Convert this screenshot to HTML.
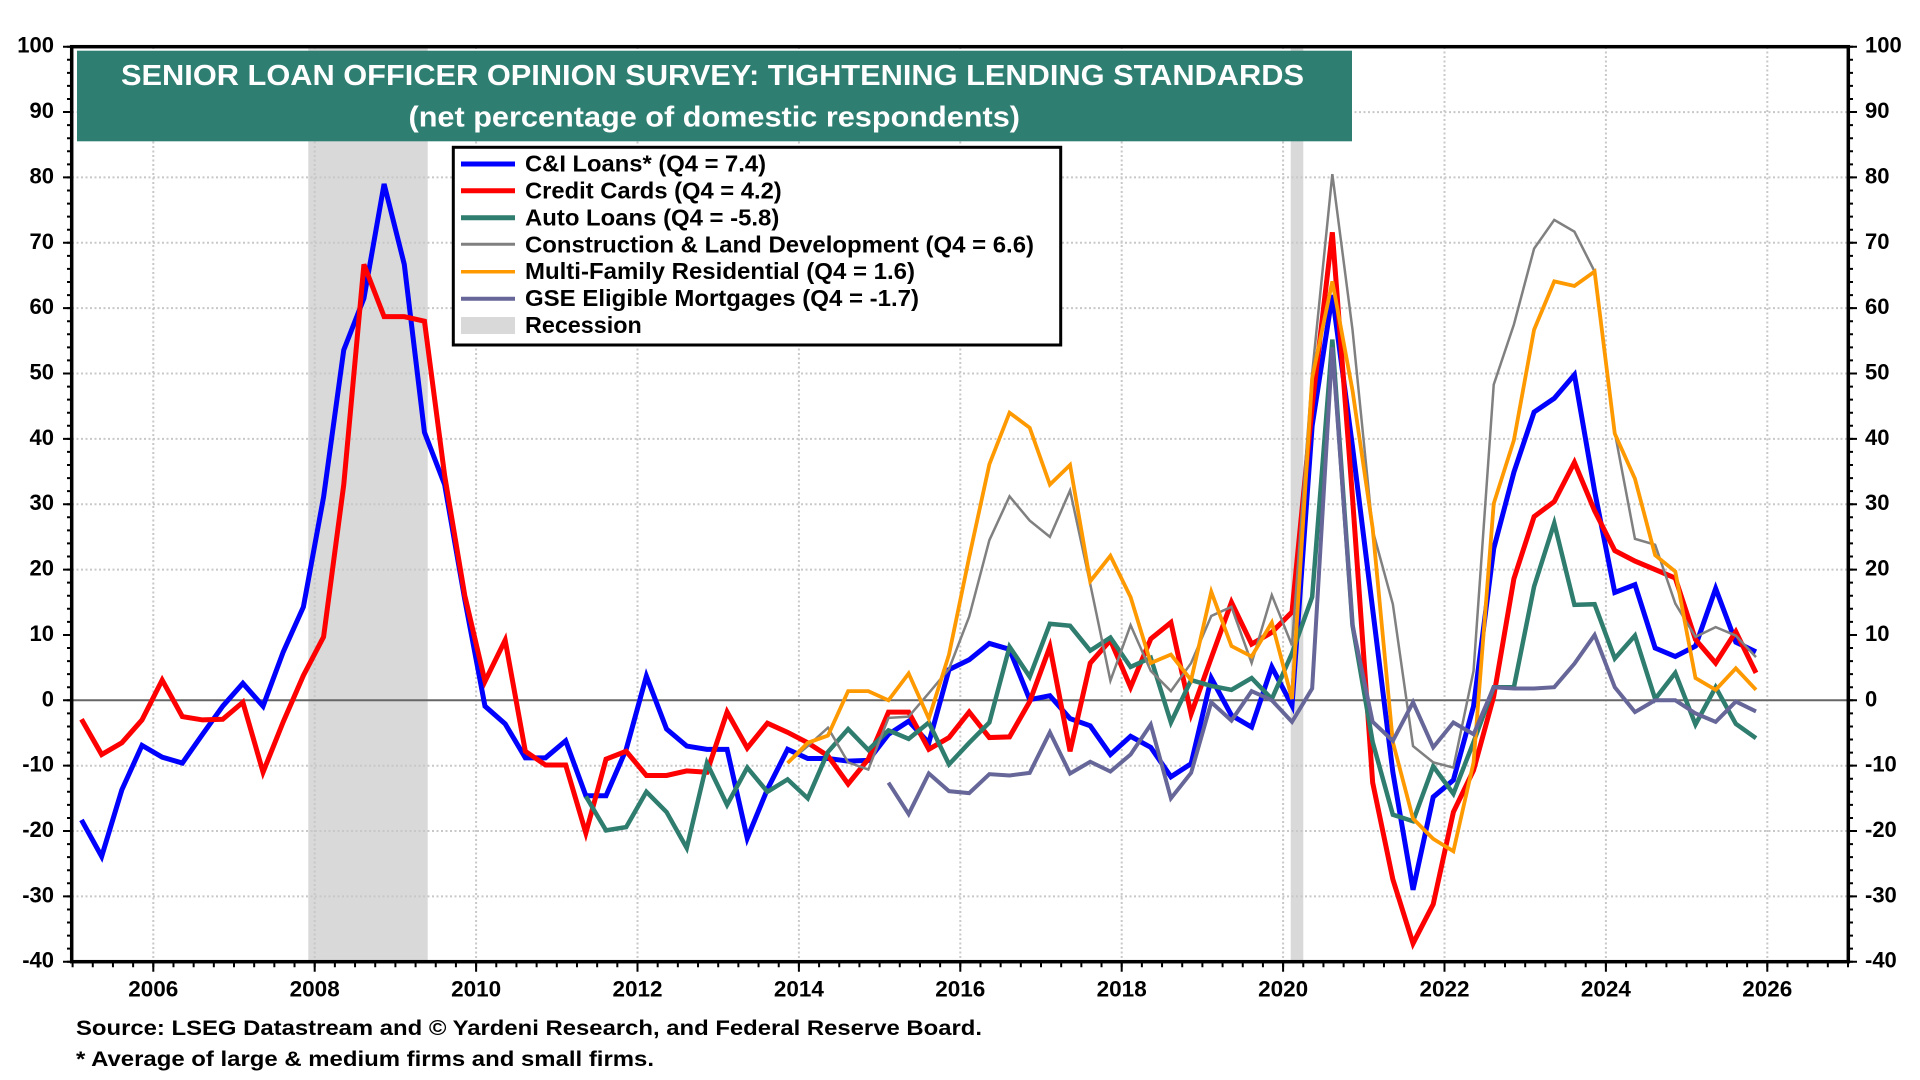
<!DOCTYPE html>
<html>
<head>
<meta charset="utf-8">
<style>
html,body{margin:0;padding:0;background:#fff;}
svg{display:block;}
</style>
</head>
<body>
<svg width="1920" height="1080" viewBox="0 0 1920 1080" xmlns="http://www.w3.org/2000/svg" font-family="'Liberation Sans', Arial, sans-serif" font-weight="bold">
<rect x="0" y="0" width="1920" height="1080" fill="#fff"/>

<!-- recession bands -->
<rect x="308.3" y="46.7" width="119.4" height="915" fill="#d9d9d9"/>
<rect x="1290.7" y="46.7" width="12.6" height="915" fill="#d9d9d9"/>

<!-- gridlines -->
<g stroke="#c8c8c8" stroke-width="2" stroke-dasharray="2 2.5" fill="none">
  <path d="M72,112.1H1848M72,177.4H1848M72,242.8H1848M72,308.1H1848M72,373.5H1848M72,438.9H1848M72,504.2H1848M72,569.6H1848M72,765.7H1848M72,831H1848M72,896.4H1848"/>
  <path d="M153.3,47V961M314.7,47V961M476.1,47V961M637.5,47V961M798.9,47V961M960.3,47V961M1121.7,47V961M1283.1,47V961M1444.5,47V961M1605.9,47V961M1767.3,47V961"/>
</g>
<!-- zero line -->
<line x1="72" y1="700.3" x2="1848" y2="700.3" stroke="#666" stroke-width="2"/>

<!-- series -->
<g transform="matrix(20.175 0 0 -6.536 81.48 700.3)" fill="none" stroke-linejoin="miter">
<polyline vector-effect="non-scaling-stroke" stroke="#0000ff" stroke-width="5" points="0,-18.3 1,-23.9 2,-13.7 3,-6.9 4,-8.7 5,-9.6 6,-5.2 7,-0.9 8,2.6 9,-0.9 10,7.4 11,14.3 12,31.1 13,53.6 14,61.5 15,79 16,66.7 17,41 18,33 19,15.4 20,-0.9 21,-3.6 22,-8.8 23,-8.8 24,-6.2 25,-14.6 26,-14.6 27,-7.5 28,3.7 29,-4.4 30,-7 31,-7.5 32,-7.5 33,-21.1 34,-13.6 35,-7.5 36,-8.9 37,-8.9 38,-9.3 39,-9.2 40,-5.2 41,-3.2 42,-6.5 43,4.7 44,6.2 45,8.7 46,7.8 47,0.1 48,0.7 49,-2.8 50,-3.9 51,-8.3 52,-5.5 53,-7.2 54,-11.7 55,-9.7 56,3.4 57,-2.3 58,-4.1 59,5.1 60,-0.8 61,42 62,62 63,38.8 64,13.9 65,-11 66,-29 67,-14.8 68,-12.2 69,-0.9 70,23.2 71,34.9 72,44.1 73,46.2 74,49.8 75,32 76,16.5 77,17.7 78,8 79,6.7 80,8.3 81,17.1 82,8.9 83,7.4"/>
<polyline vector-effect="non-scaling-stroke" stroke="#ff0000" stroke-width="5" points="0,-2.9 1,-8.3 2,-6.5 3,-3 4,3.1 5,-2.5 6,-3 7,-2.9 8,-0.3 9,-11 10,-3.3 11,3.8 12,9.7 13,33 14,66.7 15,58.7 16,58.7 17,58 18,34.4 19,16 20,2.9 21,9.2 22,-7.8 23,-9.9 24,-9.9 25,-20.3 26,-9 27,-7.8 28,-11.5 29,-11.5 30,-10.8 31,-11 32,-1.8 33,-7.3 34,-3.5 35,-4.9 36,-6.5 37,-8.5 38,-12.8 39,-9 40,-1.8 41,-1.8 42,-7.5 43,-5.7 44,-1.8 45,-5.7 46,-5.6 47,-0.2 48,8.2 49,-7.8 50,5.7 51,9.2 52,2 53,9.4 54,11.9 55,-2.1 56,6.5 57,15 58,8.6 59,10.4 60,13.5 61,45 62,71.6 63,31 64,-12.6 65,-27.4 66,-37.2 67,-31.2 68,-17.1 69,-10.7 70,0.6 71,18.6 72,28.1 73,30.4 74,36.4 75,29 76,22.9 77,21.3 78,20 79,18.7 80,9.3 81,5.7 82,10.5 83,4.2"/>
<polyline vector-effect="non-scaling-stroke" stroke="#2e7d6e" stroke-width="4.5" points="25,-14.7 26,-19.9 27,-19.4 28,-14 29,-17.1 30,-22.6 31,-9.6 32,-16 33,-10.3 34,-14 35,-12.1 36,-15 37,-7.9 38,-4.4 39,-7.6 40,-4.6 41,-5.9 42,-3.4 43,-9.8 44,-6.5 45,-3.4 46,8.2 47,3.6 48,11.7 49,11.4 50,7.6 51,9.6 52,5.1 53,6.5 54,-3.4 55,3.1 56,2.2 57,1.6 58,3.4 59,0.2 60,7.2 61,15.8 62,55.2 63,11.5 64,-6.4 65,-17.5 66,-18.5 67,-10.1 68,-14.3 69,-6.4 70,2 71,2 72,17.4 73,27.1 74,14.6 75,14.7 76,6.4 77,9.9 78,0.2 79,4.2 80,-3.7 81,2 82,-3.6 83,-5.8"/>
<polyline vector-effect="non-scaling-stroke" stroke="#808080" stroke-width="2.5" points="35,-9.6 36,-7 37,-4.2 38,-9.5 39,-10.6 40,-2.7 41,-2.5 42,1.1 43,4.8 44,12.8 45,24.5 46,31.2 47,27.5 48,25 49,32.1 50,17.8 51,3 52,11.5 53,4.5 54,1.4 55,5.7 56,12.9 57,14.3 58,5.7 59,16.1 60,8.4 61,50 62,80.5 63,56.7 64,26 65,14.7 66,-7 67,-9.5 68,-10.3 69,4.5 70,48.3 71,57.5 72,69.1 73,73.5 74,71.7 75,65.6 76,41 77,24.7 78,23.8 79,14.8 80,9.7 81,11.2 82,9.9 83,6.6"/>
<polyline vector-effect="non-scaling-stroke" stroke="#ff9900" stroke-width="3.8" points="35,-9.6 36,-6.5 37,-5.4 38,1.4 39,1.4 40,0 41,4.1 42,-2.8 43,7 44,21.9 45,36.1 46,44 47,41.7 48,33 49,36 50,18.2 51,22.1 52,15.8 53,5.7 54,7 55,3.1 56,16.6 57,8.3 58,6.7 59,11.9 60,0.2 61,49.3 62,64.1 63,47.4 64,26.3 65,-6.4 66,-18.1 67,-21.2 68,-23.1 69,-9.5 70,30.1 71,39.8 72,56.7 73,64.1 74,63.4 75,65.6 76,40.8 77,33.9 78,22.2 79,19.7 80,3.4 81,1.6 82,4.9 83,1.6"/>
<polyline vector-effect="non-scaling-stroke" stroke="#666699" stroke-width="4" points="40,-12.6 41,-17.4 42,-11.2 43,-13.9 44,-14.2 45,-11.3 46,-11.5 47,-11.1 48,-4.9 49,-11.2 50,-9.4 51,-10.9 52,-8.3 53,-3.7 54,-15 55,-11.1 56,-0.3 57,-3.1 58,1.4 59,0 60,-3.3 61,1.8 62,54 63,11.5 64,-3.3 65,-6.2 66,-0.3 67,-7.2 68,-3.4 69,-5.2 70,2 71,1.8 72,1.8 73,2 74,5.6 75,10 76,2 77,-1.8 78,0 79,0 80,-2 81,-3.3 82,-0.2 83,-1.7"/>
</g>

<!-- title box -->
<rect x="77" y="50.7" width="1275" height="90.6" fill="#2f7e72"/>
<text x="121" y="85" font-size="29" fill="#ffffff" textLength="1183" lengthAdjust="spacingAndGlyphs">SENIOR LOAN OFFICER OPINION SURVEY: TIGHTENING LENDING STANDARDS</text>
<text x="408.5" y="126.7" font-size="29" fill="#ffffff" textLength="611.5" lengthAdjust="spacingAndGlyphs">(net percentage of domestic respondents)</text>

<!-- legend -->
<rect x="453.3" y="147.3" width="607.4" height="197.7" fill="#ffffff" stroke="#000" stroke-width="3"/>
<g fill="none">
  <line x1="461" y1="164" x2="515" y2="164" stroke="#0000ff" stroke-width="5"/>
  <line x1="461" y1="190.7" x2="515" y2="190.7" stroke="#ff0000" stroke-width="5"/>
  <line x1="461" y1="217.7" x2="515" y2="217.7" stroke="#2e7d6e" stroke-width="5"/>
  <line x1="461" y1="244.3" x2="515" y2="244.3" stroke="#808080" stroke-width="3"/>
  <line x1="461" y1="271.7" x2="515" y2="271.7" stroke="#ff9900" stroke-width="3.5"/>
  <line x1="461" y1="298.7" x2="515" y2="298.7" stroke="#666699" stroke-width="4"/>
</g>
<rect x="461" y="317" width="54" height="17" fill="#d9d9d9"/>
<g font-size="23.5" fill="#000">
  <text x="525" y="171.7" textLength="241" lengthAdjust="spacingAndGlyphs">C&amp;I Loans* (Q4 = 7.4)</text>
  <text x="525" y="198.5" textLength="256.7" lengthAdjust="spacingAndGlyphs">Credit Cards (Q4 = 4.2)</text>
  <text x="525" y="225.4" textLength="254.3" lengthAdjust="spacingAndGlyphs">Auto Loans (Q4 = -5.8)</text>
  <text x="525" y="252.3" textLength="509" lengthAdjust="spacingAndGlyphs">Construction &amp; Land Development (Q4 = 6.6)</text>
  <text x="525" y="279.2" textLength="390" lengthAdjust="spacingAndGlyphs">Multi-Family Residential (Q4 = 1.6)</text>
  <text x="525" y="306.1" textLength="394" lengthAdjust="spacingAndGlyphs">GSE Eligible Mortgages (Q4 = -1.7)</text>
  <text x="525" y="333.1" textLength="116.7" lengthAdjust="spacingAndGlyphs">Recession</text>
</g>

<!-- frame -->
<rect x="71.7" y="46.7" width="1776.6" height="915" fill="none" stroke="#000" stroke-width="3.5"/>

<!-- ticks -->
<g stroke="#000" fill="none">
  <line x1="69.5" y1="45.7" x2="69.5" y2="963" stroke-width="5" stroke-dasharray="2 11.072"/>
  <line x1="67.5" y1="45.7" x2="67.5" y2="963" stroke-width="9" stroke-dasharray="2 63.36"/>
  <line x1="1850.5" y1="45.7" x2="1850.5" y2="963" stroke-width="5" stroke-dasharray="2 11.072"/>
  <line x1="1852.5" y1="45.7" x2="1852.5" y2="963" stroke-width="9" stroke-dasharray="2 63.36"/>
  <line x1="71.6" y1="964.5" x2="1849" y2="964.5" stroke-width="5.5" stroke-dasharray="2 18.175"/>
  <line x1="152.3" y1="966.7" x2="1849" y2="966.7" stroke-width="10" stroke-dasharray="2 159.4"/>
</g>

<!-- left y labels -->
<g font-size="22" fill="#000" text-anchor="end">
  <text x="54" y="52.7">100</text>
  <text x="54" y="118.1">90</text>
  <text x="54" y="183.4">80</text>
  <text x="54" y="248.8">70</text>
  <text x="54" y="314.1">60</text>
  <text x="54" y="379.5">50</text>
  <text x="54" y="444.9">40</text>
  <text x="54" y="510.2">30</text>
  <text x="54" y="575.6">20</text>
  <text x="54" y="640.9">10</text>
  <text x="54" y="706.3">0</text>
  <text x="54" y="771.7">-10</text>
  <text x="54" y="837">-20</text>
  <text x="54" y="902.4">-30</text>
  <text x="54" y="967.7">-40</text>
</g>
<!-- right y labels -->
<g font-size="22" fill="#000" text-anchor="start">
  <text x="1865" y="52.7">100</text>
  <text x="1865" y="118.1">90</text>
  <text x="1865" y="183.4">80</text>
  <text x="1865" y="248.8">70</text>
  <text x="1865" y="314.1">60</text>
  <text x="1865" y="379.5">50</text>
  <text x="1865" y="444.9">40</text>
  <text x="1865" y="510.2">30</text>
  <text x="1865" y="575.6">20</text>
  <text x="1865" y="640.9">10</text>
  <text x="1865" y="706.3">0</text>
  <text x="1865" y="771.7">-10</text>
  <text x="1865" y="837">-20</text>
  <text x="1865" y="902.4">-30</text>
  <text x="1865" y="967.7">-40</text>
</g>
<!-- x labels -->
<g font-size="22.5" fill="#000" text-anchor="middle">
  <text x="153.3" y="996.7">2006</text>
  <text x="314.7" y="996.7">2008</text>
  <text x="476.1" y="996.7">2010</text>
  <text x="637.5" y="996.7">2012</text>
  <text x="798.9" y="996.7">2014</text>
  <text x="960.3" y="996.7">2016</text>
  <text x="1121.7" y="996.7">2018</text>
  <text x="1283.1" y="996.7">2020</text>
  <text x="1444.5" y="996.7">2022</text>
  <text x="1605.9" y="996.7">2024</text>
  <text x="1767.3" y="996.7">2026</text>
</g>

<!-- footer -->
<g font-size="21" fill="#000">
  <text x="76" y="1035" textLength="906" lengthAdjust="spacingAndGlyphs">Source: LSEG Datastream and © Yardeni Research, and Federal Reserve Board.</text>
  <text x="76" y="1066" textLength="578" lengthAdjust="spacingAndGlyphs">* Average of large &amp; medium firms and small firms.</text>
</g>
</svg>
</body>
</html>
